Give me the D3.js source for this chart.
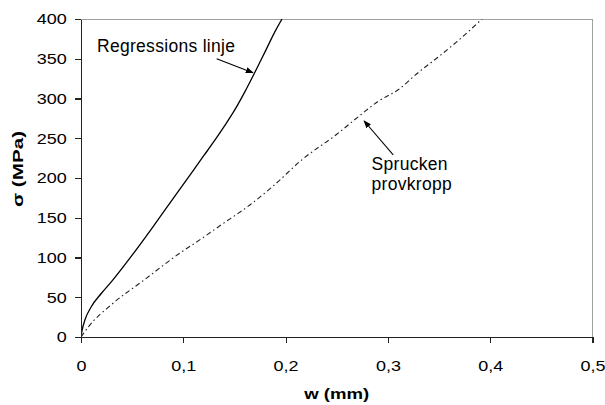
<!DOCTYPE html>
<html lang="sv">
<head>
  <meta charset="UTF-8">
  <title>σ - w</title>
  <script src="https://cdnjs.cloudflare.com/ajax/libs/d3/7.8.5/d3.min.js"></script>
  <style>
    body { margin: 0; background: #fff; }
    svg { display: block; font-family: "Liberation Sans", Arial, sans-serif; }
    .axis path, .axis line { stroke: #222; stroke-width: 1.2px; shape-rendering: crispEdges; }
    .axis text { font-size: 15px; fill: #000; }
    .frame { fill: none; stroke: #a0a0a0; stroke-width: 1px; shape-rendering: crispEdges; }
    .title { font-size: 15px; font-weight: bold; text-anchor: middle; }
    .note { font-size: 17.5px; letter-spacing: 0.3px; }
  </style>
</head>
<body>
  <svg width="605" height="405"></svg>
  <script>
    // Regressionslinje (w i mm, sigma i MPa)
    var regW = [0, 0.001, 0.004, 0.01, 0.02, 0.03, 0.05, 0.07, 0.09, 0.11, 0.12, 0.13, 0.14, 0.15, 0.16, 0.17, 0.18, 0.19, 0.1965]
    var regS = [0, 8, 22, 38, 55, 70, 103, 138, 174, 210, 228, 246, 265, 285, 308, 333, 359, 385, 400]

    // Sprucken provkropp
    var sprW = [0, 0.008, 0.03, 0.062, 0.095, 0.117, 0.137, 0.165, 0.187, 0.217, 0.25, 0.273, 0.29, 0.31, 0.33, 0.348, 0.367, 0.392]
    var sprS = [0, 14, 41, 72, 104, 123, 141, 166, 189, 224, 255, 279, 296, 311, 333, 351, 371, 400]

    var xTicks = [0, 0.1, 0.2, 0.3, 0.4, 0.5]
    var yTicks = [0, 50, 100, 150, 200, 250, 300, 350, 400]

    // etiketter med pil: text, textposition, pilens start och spets (i data)
    var notes = [
      { lines: ['Regressions linje'], w: 0.0156, s: 359, from: [0.1326, 350], to: [0.168, 332.5] },
      { lines: ['Sprucken', 'provkropp'], w: 0.284, s: 210, from: [0.3052, 229], to: [0.2768, 271.7] }
    ]

    var svg = d3.select('svg')
    var x = d3.scaleLinear().domain([0, 0.5]).range([81, 592.5])
    var y = d3.scaleLinear().domain([0, 400]).range([337, 19])

    var sv = d3.formatLocale({ decimal: ',', thousands: ' ', grouping: [3], currency: ['', ' kr'] })
    var fmtX = d => d === 0 ? '0' : sv.format('.1f')(d)

    svg.append('defs').append('clipPath').attr('id', 'plot')
      .append('rect')
      .attr('x', x(0)).attr('y', y(400))
      .attr('width', x(0.5) - x(0)).attr('height', y(0) - y(400))

    var marker = svg.select('defs').append('marker')
      .attr('id', 'arrow')
      .attr('markerUnits', 'userSpaceOnUse')
      .attr('markerWidth', 8).attr('markerHeight', 6)
      .attr('refX', 7).attr('refY', 3)
      .attr('orient', 'auto')
    marker.append('path').attr('d', 'M0,0 L8,3 L0,6 Z').attr('fill', '#000')

    // ram (topp och höger)
    svg.append('rect').attr('class', 'frame')
      .attr('x', x(0)).attr('y', y(400))
      .attr('width', x(0.5) - x(0)).attr('height', y(0) - y(400))

    var line = d3.line()
      .x(d => x(d[0]))
      .y(d => y(d[1]))
      .curve(d3.curveMonotoneX)

    var g = svg.append('g').attr('clip-path', 'url(#plot)')

    g.append('path')
      .datum(regW.map((w, i) => [w, regS[i]]))
      .attr('d', line)
      .attr('fill', 'none')
      .attr('stroke', '#000')
      .attr('stroke-width', 1.3)

    g.append('path')
      .datum(sprW.map((w, i) => [w, sprS[i]]))
      .attr('d', line)
      .attr('fill', 'none')
      .attr('stroke', '#222')
      .attr('stroke-width', 1.1)
      .attr('stroke-dasharray', '5,3,1.5,3')

    // axlar
    var xAxis = svg.append('g').attr('class', 'axis')
      .attr('transform', 'translate(0,' + y(0) + ')')
      .call(d3.axisBottom(x).tickValues(xTicks).tickFormat(fmtX).tickSize(6).tickSizeOuter(0).tickPadding(17))
    xAxis.selectAll('text').attr('transform', 'scale(1.2,1)')

    var yAxis = svg.append('g').attr('class', 'axis')
      .attr('transform', 'translate(' + x(0) + ',0)')
      .call(d3.axisLeft(y).tickValues(yTicks).tickSize(6).tickSizeOuter(0))
    yAxis.selectAll('text').attr('x', -11.9).attr('transform', 'scale(1.2,1)')

    svg.append('text').attr('class', 'title')
      .attr('transform', 'translate(' + (x(0) + x(0.5)) / 2 + ',399) scale(1.24,1)')
      .text('w (mm)')

    svg.append('text').attr('class', 'title')
      .attr('transform', 'translate(23,169) rotate(-90) scale(1.38,1)')
      .text('σ (MPa)')

    // etiketter
    notes.forEach(n => {
      var t = svg.append('text').attr('class', 'note')
        .attr('x', x(n.w)).attr('y', y(n.s))
      n.lines.forEach((l, i) => {
        t.append('tspan').attr('x', x(n.w)).attr('dy', i === 0 ? 0 : 20).text(l)
      })
      svg.append('line')
        .attr('x1', x(n.from[0])).attr('y1', y(n.from[1]))
        .attr('x2', x(n.to[0])).attr('y2', y(n.to[1]))
        .attr('stroke', '#000')
        .attr('stroke-width', 1.1)
        .attr('marker-end', 'url(#arrow)')
    })
  </script>
</body>
</html>
